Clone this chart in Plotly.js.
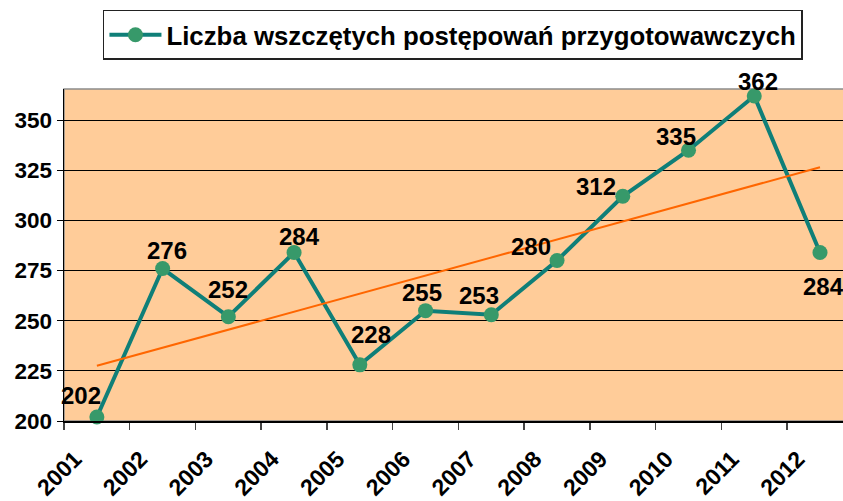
<!DOCTYPE html>
<html>
<head>
<meta charset="utf-8">
<script src="https://cdn.plot.ly/plotly-3.0.1.min.js"></script>
<style>
html,body{margin:0;padding:0;background:#fff;overflow:hidden;}
#chart{width:843px;height:501px;}
</style>
</head>
<body>
<div id="chart"></div>
<script>
// ---- data ----
const years = ['2001','2002','2003','2004','2005','2006','2007','2008','2009','2010','2011','2012'];
const cases = [202, 276, 252, 284, 228, 255, 253, 280, 312, 335, 362, 284];
const seriesName = 'Liczba wszczętych postępowań przygotowawczych';
// trend line endpoints
const trendYears = ['2001', '2012'];
const trendValues = [227.5, 326.5];
const yTicks = [200, 225, 250, 275, 300, 325, 350];

// ---- label placement (styling, pixels) ----
const labelDx = [-16, 4, 0, 5, 11, -4, -12, -26, -27, -13, 4, 4];
const labelDy = [21, 18, 27, 16, 30, 18, 19, 14, 10, 14, 15, -34];

const FONT = 'Arial, "Liberation Sans", sans-serif';

const lineTrace = {
  x: years, y: cases, type: 'scatter', mode: 'lines+markers', name: seriesName,
  line: {color: '#0F7F78', width: 4},
  marker: {color: '#37996A', size: 15},
  cliponaxis: false
};
const trendTrace = {
  x: trendYears, y: trendValues, type: 'scatter', mode: 'lines', showlegend: false,
  line: {color: '#FF6600', width: 2}, hoverinfo: 'skip'
};

const annotations = cases.map((v, i) => ({
  xref: 'x', yref: 'y',
  x: i, y: v, text: '<b>' + v + '</b>', showarrow: false,
  xshift: labelDx[i], yshift: labelDy[i],
  font: {family: FONT, size: 24, color: '#000000'}
}));

const layout = {
  width: 843, height: 501,
  margin: {l: 64, r: 0, t: 89, b: 80},
  paper_bgcolor: '#FFFFFF',
  plot_bgcolor: '#FFCC99',
  font: {family: FONT, color: '#000'},
  showlegend: true,
  legend: {
    orientation: 'h', x: 0.05, xanchor: 'left', y: 1.238, yanchor: 'top',
    bgcolor: '#FFFFFF', bordercolor: '#222', borderwidth: 1.5, itemwidth: 52,
    font: {size: 25.8, weight: 'bold', family: FONT}
  },
  xaxis: {
    type: 'category', categoryorder: 'array', categoryarray: years,
    range: [-0.5, 11.35], tickson: 'boundaries',
    showgrid: false, showline: true, linecolor: '#000', linewidth: 1.5,
    ticks: 'outside', ticklen: 7, tickcolor: '#444', tickwidth: 1.5,
    tickangle: -45, zeroline: false, ticklabelstandoff: 14, ticklabelshift: -22,
    tickfont: {size: 23, weight: 'bold', family: FONT}
  },
  yaxis: {
    range: [200, 365.5], tickvals: yTicks, ticktext: yTicks.map(String),
    showgrid: true, gridcolor: '#000', gridwidth: 1,
    showline: true, linecolor: '#000', linewidth: 1.5,
    ticks: 'outside', ticklen: 6, tickcolor: '#000', zeroline: false,
    tickfont: {size: 22.5, weight: 'bold', family: FONT}
  },
  shapes: [{
    type: 'rect', xref: 'paper', yref: 'paper', x0: 0, x1: 1.01, y0: 0, y1: 1,
    line: {color: '#8C8C8C', width: 1.5}, layer: 'below'
  }],
  annotations: annotations
};

Plotly.newPlot('chart', [lineTrace, trendTrace], layout, {staticPlot: true, displayModeBar: false});
</script>
</body>
</html>
